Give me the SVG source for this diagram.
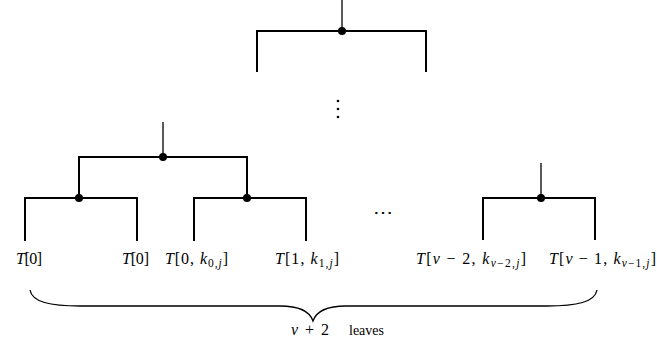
<svg xmlns="http://www.w3.org/2000/svg" width="657" height="356" viewBox="0 0 657 356">
<style>
.e{stroke:#000;stroke-width:2;fill:none;stroke-linecap:square}
.t{stroke:#000;stroke-width:1.3;fill:none}
.d{fill:#000}
text{font-family:"Liberation Serif","DejaVu Serif",serif;font-size:16px;fill:#000}
.i{font-style:italic}
.s{font-size:11.5px}
</style>
<rect width="657" height="356" fill="#fff"/>
<g id="connectors">
<path class="t" d="M342 0V31"/>
<path class="e" d="M257 71V31H426V71"/>
<path class="t" d="M163 122V157"/>
<path class="e" d="M79 198V157H247V198"/>
<path class="e" d="M25 240V198H137V240"/>
<path class="e" d="M194 240V198H306V240"/>
<path class="t" d="M541 163V198"/>
<path class="e" d="M483 239V198H595V239"/>
<path class="t" d="M30 290C32 302 50 306 80 306H280C300 306 310 312 313 321C316 312 326 306 346 306H547C577 306 595 302 597 290"/>
</g>
<g id="root"><circle class="d" cx="342" cy="31" r="4"/></g>
<g id="vdots"><circle class="d" cx="338" cy="101" r="1.3"/><circle class="d" cx="338" cy="109" r="1.3"/><circle class="d" cx="338" cy="117" r="1.3"/></g>
<g id="n1"><circle class="d" cx="163" cy="157" r="4"/></g>
<g id="n2"><circle class="d" cx="79" cy="198" r="4"/></g>
<g id="n3"><circle class="d" cx="247" cy="198" r="4"/></g>
<g id="n4"><circle class="d" cx="541" cy="198" r="4"/></g>
<g id="hdots"><text x="373" y="219" style="font-size:20px" textLength="20">⋯</text></g>
<g id="l1"><text x="16" y="264" textLength="26"><tspan class="i">T</tspan>[0]</text></g>
<g id="l2"><text x="122" y="264" textLength="27"><tspan class="i">T</tspan>[0]</text></g>
<g id="l3"><text x="165" y="264" textLength="63"><tspan class="i">T</tspan>[0, <tspan class="i">k</tspan><tspan class="s" dy="3">0,<tspan class="i">j</tspan></tspan><tspan dy="-3">]</tspan></text></g>
<g id="l4"><text x="275" y="264" textLength="64"><tspan class="i">T</tspan>[1, <tspan class="i">k</tspan><tspan class="s" dy="3">1,<tspan class="i">j</tspan></tspan><tspan dy="-3">]</tspan></text></g>
<g id="l5"><text x="416" y="264" textLength="110"><tspan class="i">T</tspan>[<tspan class="i">v</tspan> − 2, <tspan class="i">k</tspan><tspan class="s" dy="3"><tspan class="i">v</tspan>−2,<tspan class="i">j</tspan></tspan><tspan dy="-3">]</tspan></text></g>
<g id="l6"><text x="549" y="264" textLength="107"><tspan class="i">T</tspan>[<tspan class="i">v</tspan> − 1, <tspan class="i">k</tspan><tspan class="s" dy="3"><tspan class="i">v</tspan>−1,<tspan class="i">j</tspan></tspan><tspan dy="-3">]</tspan></text></g>
<g id="brace-label"><text x="291" y="335" textLength="38"><tspan class="i">v</tspan> + 2</text><text x="349" y="335" style="font-size:14px">leaves</text></g>
</svg>
